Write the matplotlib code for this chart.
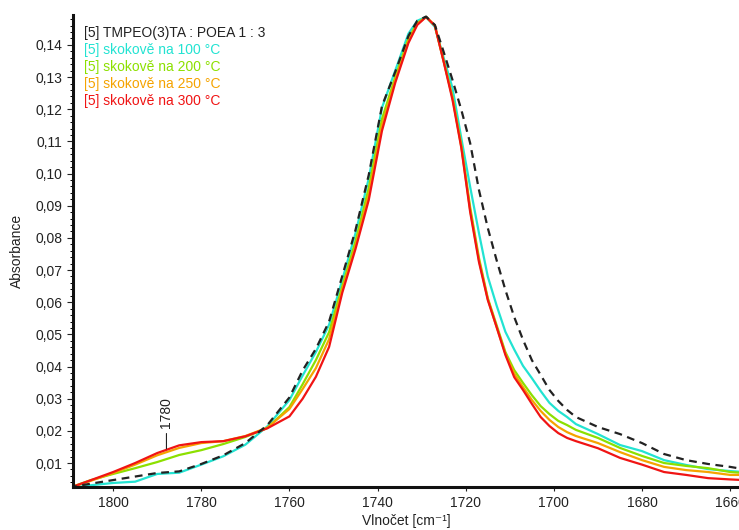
import numpy as np
import matplotlib.pyplot as plt
from matplotlib.ticker import MultipleLocator, FuncFormatter

plt.rcParams['font.family'] = ['Liberation Sans', 'DejaVu Sans']

wn = [1810, 1805, 1800, 1795, 1790, 1785, 1780, 1775, 1770, 1765, 1760, 1757, 1754,
      1751, 1748, 1745, 1742, 1739, 1736, 1733, 1731, 1729, 1727, 1725, 1723, 1721,
      1719, 1717, 1715, 1713, 1711, 1709, 1707, 1705, 1703, 1701, 1699, 1697, 1695,
      1690, 1685, 1680, 1675, 1670, 1665, 1660, 1657]

ref = [0.0024, 0.0036, 0.0047, 0.0058, 0.0069, 0.0074, 0.0097, 0.0124, 0.0162, 0.0218,
       0.0304, 0.0388, 0.0455, 0.0540, 0.0682, 0.0825, 0.0996, 0.1210, 0.1316, 0.1428,
       0.1475, 0.1488, 0.1462, 0.1378, 0.1291, 0.1198, 0.1095, 0.0949, 0.0831, 0.0731,
       0.0638, 0.0554, 0.0483, 0.0420, 0.0374, 0.0327, 0.0293, 0.0265, 0.0243, 0.0212,
       0.0190, 0.0162, 0.0128, 0.0109, 0.0097, 0.0088, 0.0081]

t100 = [0.0022, 0.0031, 0.0038, 0.0042, 0.0066, 0.0070, 0.0095, 0.0121, 0.0157, 0.0214,
        0.0296, 0.0372, 0.0445, 0.0530, 0.0670, 0.0815, 0.0985, 0.1205, 0.1320, 0.1435,
        0.1475, 0.1487, 0.1456, 0.1360, 0.1266, 0.1110, 0.0959, 0.0815, 0.0680, 0.0590,
        0.0508, 0.0453, 0.0402, 0.0364, 0.0324, 0.0287, 0.0262, 0.0243, 0.0221, 0.0190,
        0.0156, 0.0137, 0.0109, 0.0094, 0.0081, 0.0075, 0.0072]

t200 = [0.0023, 0.0047, 0.0066, 0.0084, 0.0103, 0.0125, 0.0140, 0.0159, 0.0181, 0.0209,
        0.0274, 0.0345, 0.0420, 0.0507, 0.0650, 0.0790, 0.0955, 0.1170, 0.1300, 0.1420,
        0.1468, 0.1487, 0.1460, 0.1350, 0.1238, 0.1089, 0.0896, 0.0738, 0.0613, 0.0529,
        0.0445, 0.0389, 0.0349, 0.0311, 0.0277, 0.0252, 0.0231, 0.0218, 0.0203, 0.0178,
        0.0147, 0.0122, 0.0100, 0.0091, 0.0084, 0.0072, 0.0069]

t250 = [0.0022, 0.0045, 0.0069, 0.0095, 0.0124, 0.0147, 0.0162, 0.0168, 0.0184, 0.0210,
        0.0268, 0.0330, 0.0395, 0.0485, 0.0640, 0.0775, 0.0935, 0.1150, 0.1290, 0.1412,
        0.1465, 0.1487, 0.1460, 0.1349, 0.1235, 0.1083, 0.0887, 0.0731, 0.0610, 0.0523,
        0.0440, 0.0378, 0.0336, 0.0296, 0.0262, 0.0234, 0.0212, 0.0196, 0.0184, 0.0162,
        0.0134, 0.0109, 0.0088, 0.0078, 0.0072, 0.0063, 0.0063]

t300 = [0.0022, 0.0047, 0.0072, 0.0100, 0.0131, 0.0155, 0.0165, 0.0168, 0.0183, 0.0208,
        0.0245, 0.0300, 0.0368, 0.0461, 0.0630, 0.0766, 0.0918, 0.1133, 0.1282, 0.1406,
        0.1462, 0.1487, 0.1460, 0.1347, 0.1229, 0.1080, 0.0881, 0.0725, 0.0607, 0.0523,
        0.0436, 0.0367, 0.0327, 0.0284, 0.0243, 0.0215, 0.0193, 0.0178, 0.0168, 0.0146,
        0.0116, 0.0095, 0.0072, 0.0063, 0.0053, 0.0049, 0.0047]

labels = ['[5] TMPEO(3)TA : POEA 1 : 3', '[5] skokově na 100 °C', '[5] skokově na 200 °C',
          '[5] skokově na 250 °C', '[5] skokově na 300 °C']
colors = ['#222222', '#22E3D2', '#8CE000', '#F5A300', '#F01414']

peak_x = 1787.9
peak_y = 0.0144
peak_label = '1780'

fig = plt.figure(figsize=(7.39, 5.30), dpi=100)
ax = fig.add_axes([0.0988, 0.0811, 0.9012, 0.8906])

for ys, c in zip([t100, t200, t250, t300], colors[1:]):
    ax.plot(wn, ys, color=c, lw=1.6)
ax.plot(wn, ref, color=colors[0], lw=1.6, ls=(0, (3.5, 2.5)))

ax.set_xlim(1809.1, 1658.0)
ax.set_ylim(0.00254, 0.1493)

ax.xaxis.set_major_locator(MultipleLocator(20))
ax.yaxis.set_major_locator(MultipleLocator(0.01))
ax.yaxis.set_minor_locator(MultipleLocator(0.002))
ax.yaxis.set_major_formatter(FuncFormatter(lambda v, p: f'{v:.2f}'.replace('.', ',')))
ax.tick_params(axis='both', labelsize=10, colors='#222222', direction='out')
ax.tick_params(axis='y', which='major', length=4, width=0.8)
ax.tick_params(axis='y', which='minor', length=2.5, width=0.7)
ax.tick_params(axis='x', which='major', length=3, width=0.8)

for s in ['top', 'right']:
    ax.spines[s].set_visible(False)
for s in ['left', 'bottom']:
    ax.spines[s].set_linewidth(2.2)
    ax.spines[s].set_color('#111111')

ax.set_xlabel('Vlnočet [cm⁻¹]', fontsize=10, color='#222222', labelpad=3)
ax.set_ylabel('Absorbance', fontsize=10, color='#222222', labelpad=8)

for i, (lab, c) in enumerate(zip(labels, colors)):
    ax.text(0.0165, 0.962 - i * 0.0358, lab, transform=ax.transAxes, color=c,
            fontsize=10, va='center', ha='left')

ax.annotate(peak_label, xy=(peak_x, peak_y), xytext=(peak_x, 0.0209),
            rotation=90, ha='center', va='bottom', fontsize=10, color='#222222',
            arrowprops=dict(arrowstyle='-', color='#222222', lw=0.8, shrinkA=2, shrinkB=0))

fig.savefig('out.png', dpi=100)
